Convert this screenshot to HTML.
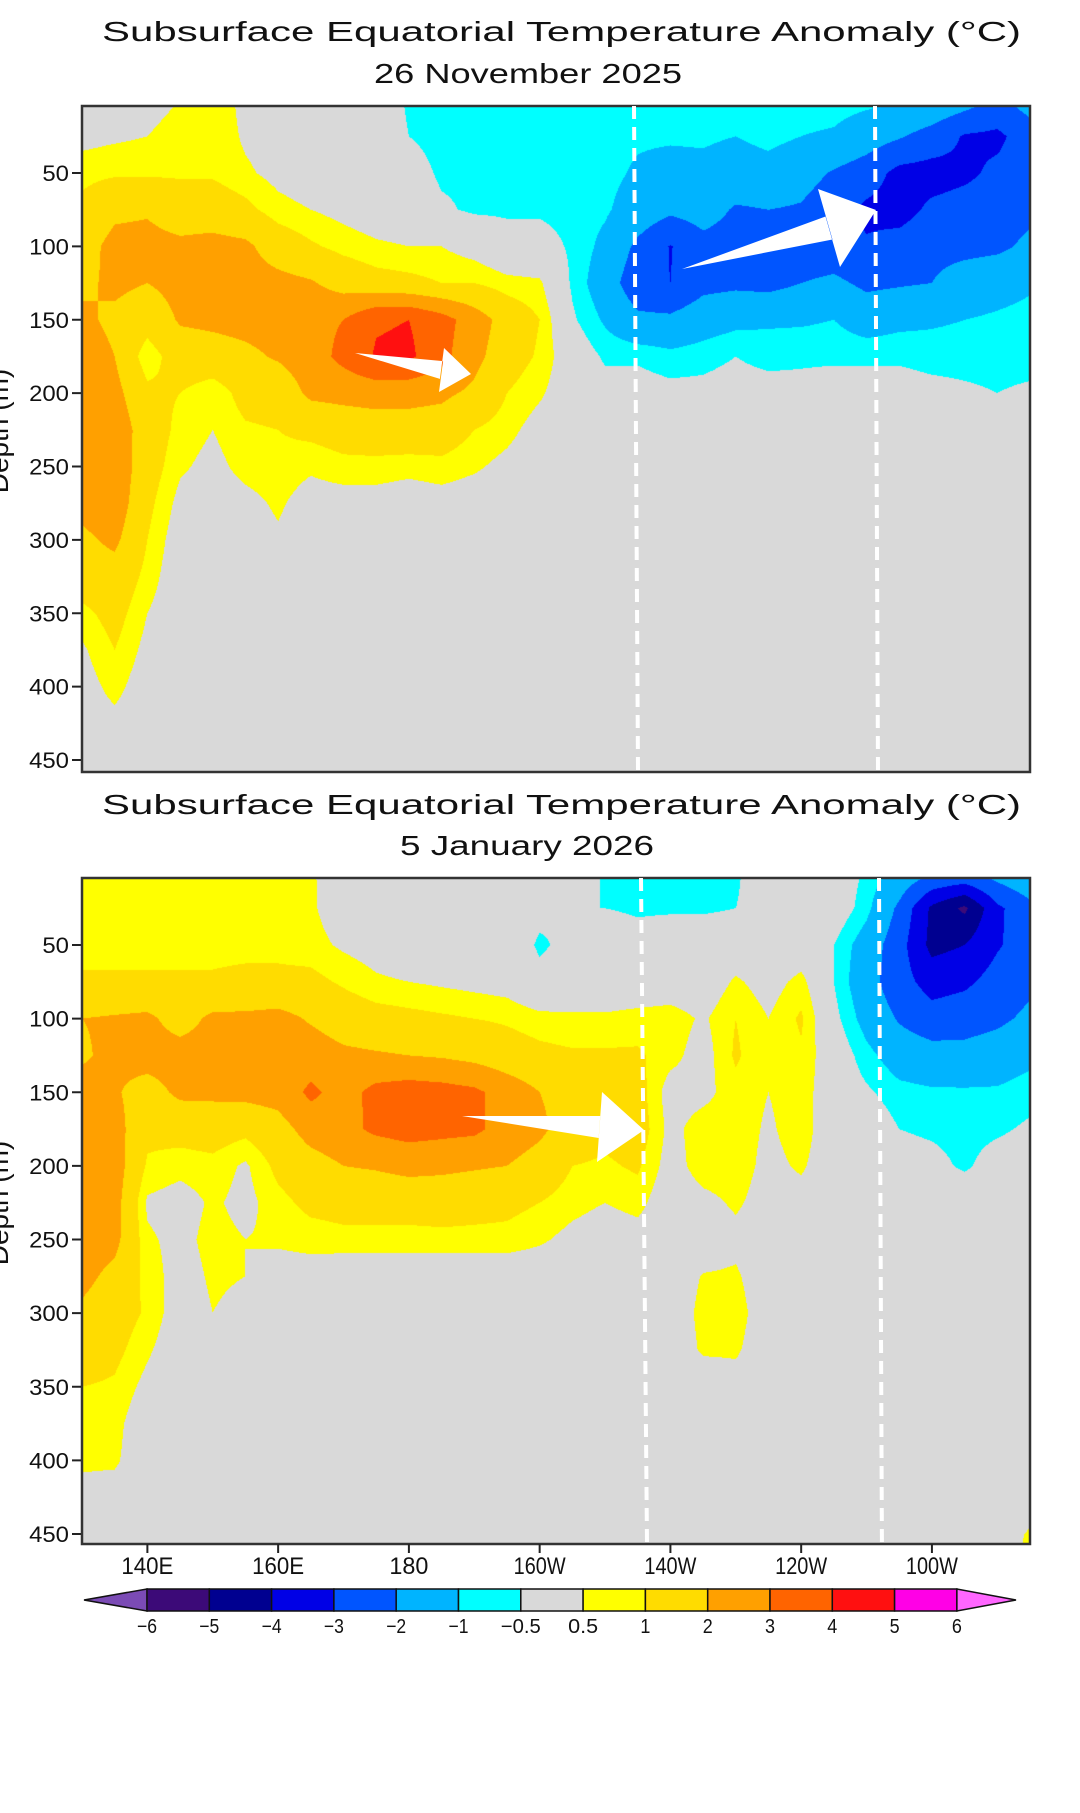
<!DOCTYPE html>
<html><head><meta charset="utf-8"><style>
html,body{margin:0;padding:0;background:#fff;}
#wrap{position:relative;width:1080px;height:1813px;overflow:hidden;background:#fff;}
canvas{position:absolute;}
svg{position:absolute;left:0;top:0;}
</style></head><body>
<div id="wrap">
<canvas id="cTop" width="948" height="666" style="left:82px;top:106px"></canvas>
<canvas id="cBot" width="948" height="666" style="left:82px;top:878px"></canvas>
<svg id="ov" width="1080" height="1813" xmlns="http://www.w3.org/2000/svg"></svg>
</div>
<script>
// ---- data: grid lons 130E..85W (step 5), depths 0..475 (step 25) ----
const gridLons = [130,135,140,145,150,155,160,165,170,175,180,185,190,195,200,205,210,215,220,225,230,235,240,245,250,255,260,265,270,275];
const gridDepths = [0,25,50,75,100,125,150,175,200,225,250,275,300,325,350,375,400,425,450,475];
const novCols = [
[0,0.3,0.8,1.2,1.6,1.8,2.2,2.5,2.5,2.5,2.5,2.3,1.8,1.5,0.8,0.4,0.2,0.1],
[0.1,0.4,0.9,1.8,2.3,2.2,1.8,2.0,2.3,2.6,2.7,2.6,2.2,1.6,1.3,1.0,0.7,0.3,0.1],
[0.2,0.5,0.9,1.9,2.3,2.0,1.4,0.6,1.2,1.5,1.4,1.2,1.0,0.8,0.5,0.3,0.1],
[0.5,0.8,0.9,1.5,2.2,2.3,2.1,1.5,1.0,0.8,0.6,0.3,0.1],
[0.9,0.9,0.9,1.5,2.3,2.3,2.2,1.6,0.6,0.5,0.3,0.1],
[0.3,0.4,0.6,1.2,2.2,2.4,2.3,1.8,1.3,0.9,0.7,0.3,0.1],
[0.1,0.2,0.3,0.7,1.5,2.3,2.4,2.1,1.4,1.0,0.8,0.6,0.4],
[0,0,0.1,0.5,1.1,2.1,2.7,2.5,2.2,1.2,0.6,0.2],
[0,0,0,0.3,0.8,1.6,3.0,3.3,2.3,1.4,0.8,0.2],
[0,0,0,0.1,0.6,1.3,3.9,4.1,2.4,1.5,0.8,0.2],
[-0.6,-0.5,-0.2,0,0.5,1.2,4.0,4.2,2.3,1.6,0.7,0.1],
[-0.7,-0.7,-0.6,-0.4,0.5,1.0,3.4,3.3,2.2,1.5,0.8,0.2],
[-0.7,-0.7,-0.6,-0.6,0.2,1.0,2.5,2.3,1.8,1.0,0.6,0.1],
[-0.7,-0.8,-0.7,-0.6,-0.2,0.7,1.6,1.4,1.0,0.7,0.3],
[-0.8,-0.7,-0.7,-0.6,-0.2,0.6,1.0,0.9,0.6,0.2],
[-0.8,-0.8,-0.8,-0.7,-0.6,-0.6,-0.4,0],
[-0.8,-0.8,-0.8,-0.9,-1.2,-1.5,-1.1,-0.6,-0.2],
[-0.8,-0.9,-1.1,-1.4,-2.2,-2.6,-1.8,-0.6,-0.2],
[-0.8,-0.9,-1.3,-1.8,-3.05,-3.0,-1.8,-0.8,-0.3],
[-0.8,-0.9,-1.2,-1.6,-2.3,-2.3,-1.4,-0.7,-0.3],
[-0.7,-1.0,-1.4,-2.1,-2.4,-2.2,-1.2,-0.5,-0.2],
[-0.5,-0.8,-1.3,-2.0,-2.2,-2.3,-1.1,-0.7,-0.2],
[-0.7,-1.0,-1.6,-2.1,-2.6,-2.0,-1.1,-0.6,-0.3],
[-0.7,-1.1,-2.1,-2.6,-2.6,-1.8,-1.0,-0.6,-0.2],
[-0.8,-1.5,-2.5,-3.2,-2.9,-2.2,-1.4,-0.6,-0.2],
[-0.9,-1.9,-3.3,-3.4,-2.6,-2.1,-1.2,-0.6,-0.2],
[-1.1,-2.4,-3.4,-2.8,-2.3,-2.0,-1.1,-0.7,-0.3],
[-1.5,-3.1,-3.2,-2.6,-2.3,-1.5,-1.0,-0.7,-0.4],
[-2.2,-3.2,-2.8,-2.5,-2.2,-1.3,-0.9,-0.7,-0.5],
[-1.5,-2.5,-2.6,-2.2,-1.8,-1.1,-0.8,-0.7,-0.4,-0.1]
];
const janCols = [
[0.8,0.8,0.8,1.1,2.0,1.9,2.3,2.6,2.7,2.7,2.6,2.3,1.8,1.5,1.0,0.8,0.6,0.3,0.1],
[0.8,0.8,0.8,1.1,2.1,2.2,2.1,2.4,2.5,2.4,2.3,1.7,1.4,1.2,0.9,0.7,0.6,0.2],
[0.8,0.8,0.8,1.1,2.2,2.4,1.6,1.2,0.9,0.4,0.6,0.8,0.9,0.6,0.3],
[0.8,0.8,0.8,1.1,1.6,2.4,2.2,1.3,0.7,0.2,0.3,0.2,0.1],
[0.8,0.8,0.8,1.1,2.2,2.4,2.2,1.4,0.8,0.6,0.7,0.6,0.5,0.3],
[0.8,0.8,0.8,1.2,2.2,2.4,2.3,1.2,0.4,0.3,0.5,0.5,0.3],
[0.8,0.8,0.8,1.2,2.3,2.4,2.4,1.6,1.2,0.8,0.6,0.2],
[0.6,0.6,0.7,1.2,1.9,2.5,3.2,2.4,1.6,1.2,0.7,0.2],
[0,0.1,0.4,0.9,1.5,2.2,2.6,2.7,2.0,1.3,0.8],
[0,0,0.2,0.6,1.3,2.1,3.3,3.2,2.1,1.3,0.8],
[0,0,0,0.5,1.2,2.0,3.5,3.4,2.3,1.3,0.8],
[0,0,0,0.4,1.1,1.9,3.4,3.3,2.2,1.4,0.8],
[0,0,0,0.3,1.0,1.7,3.2,3.2,2.1,1.3,0.8],
[0,0,0,0.2,0.9,1.4,2.6,2.6,2.0,1.2,0.8],
[0,-0.3,-0.6,-0.3,0.7,1.2,2.0,2.2,1.6,1.0,0.6],
[0,-0.5,-0.3,0,0.6,1.1,1.6,1.5,1.0,0.7,0.3],
[-0.6,-0.5,0,0,0.6,1.1,1.4,1.2,0.9,0.5,0.1],
[-0.7,-0.6,-0.2,0,0.7,1.1,1.3,1.4,1.1,0.7,0.2],
[-0.7,-0.6,0,0,0.8,0.7,0.2,0.3,0.2],
[-0.7,-0.6,0,0,0.4,0.2,0.3,0.8,0.8,0.3,0,0.55,0.7,0.6,0],
[-0.6,-0.5,0,0.6,1.0,1.1,0.8,0.8,0.8,0.6,0.3,0.6,0.8,0.6,0.2],
[0,-0.2,-0.3,0.2,0.5,0.5,0.5,0.4,0.3,0.2],
[0,0,0,0.7,1.1,0.9,0.8,0.8,0.6,0.2],
[0,0,-0.5,-0.5,-0.3,0],
[-0.6,-0.8,-1.4,-1.6,-1.3,-0.8,-0.4,0],
[-1.2,-2.2,-2.6,-2.6,-2.1,-1.4,-0.8,-0.5,-0.2],
[-1.8,-4.2,-4.3,-3.4,-2.6,-1.6,-0.9,-0.6,-0.3],
[-1.9,-5.2,-4.0,-3.2,-2.4,-1.7,-0.9,-0.7,-0.6],
[-1.5,-3.2,-3.1,-2.6,-2.2,-1.5,-0.9,-0.6,-0.2],
[-1.0,-2.3,-2.5,-2.2,-1.8,-1.2,-0.7,-0.4,-0.1,0,0,0,0,0,0,0,0,0,0.6,0.8]
];
const levels = [-6,-5,-4,-3,-2,-1,-0.5,0.5,1,2,3,4,5,6];
const levelLabels = ["−6","−5","−4","−3","−2","−1","−0.5","0.5","1","2","3","4","5","6"];
const depthTicks = [50,100,150,200,250,300,350,400,450];
const lonTicks = [140,160,180,200,220,240,260];
const lonTickLabels = ["140E","160E","180","160W","140W","120W","100W"];
const colors = ["#7b4bb5","#3c0a78","#000090","#0000e6","#0055ff","#00b4ff","#00ffff","#d9d9d9","#ffff00","#ffdc00","#ffa000","#ff6400","#ff1010","#ff00e6","#ff66ff"];

// ---- scales ----
const X0=82, X1=1030, LON0=130, LON1=275;
function xScale(lon){return X0+(lon-LON0)/(LON1-LON0)*(X1-X0);}
const panels=[
 {id:'cTop',top:106,bot:772,y50:173,y450:760,data:novCols,name:'november'},
 {id:'cBot',top:878,bot:1544,y50:945,y450:1534,data:janCols,name:'january'}
];
function yScale(p,d){return p.y50+(d-50)*(p.y450-p.y50)/400;}
function depthAt(p,y){return 50+(y-p.y50)*400/(p.y450-p.y50);}
function hex(c){return [parseInt(c.substr(1,2),16),parseInt(c.substr(3,2),16),parseInt(c.substr(5,2),16)];}
const rgb=colors.map(hex);
function colorIdx(v){let i=0;while(i<levels.length&&v>=levels[i])i++;return i;}
function val(cols,ci,ri){const c=cols[ci];return (c&&c[ri]!==undefined)?c[ri]:0;}
function sample(cols,lon,d){
 let fx=(lon-gridLons[0])/5, fy=(d-gridDepths[0])/25;
 fx=Math.max(0,Math.min(gridLons.length-1.0001,fx));
 fy=Math.max(0,Math.min(gridDepths.length-1.0001,fy));
 const i=Math.floor(fx),j=Math.floor(fy),tx=fx-i,ty=fy-j;
 const a=val(cols,i,j),b=val(cols,i+1,j),c=val(cols,i,j+1),e=val(cols,i+1,j+1);
 return (a*(1-tx)+b*tx)*(1-ty)+(c*(1-tx)+e*tx)*ty;
}
panels.forEach(p=>{
 const cv=document.getElementById(p.id),ctx=cv.getContext('2d');
 const W=cv.width,H=cv.height,img=ctx.createImageData(W,H);
 for(let j=0;j<H;j++){const d=depthAt(p,p.top+j+0.5);
  for(let i=0;i<W;i++){const lon=LON0+(i+0.5)/W*(LON1-LON0);
   const k=rgb[colorIdx(sample(p.data,lon,d))],o=(j*W+i)*4;
   img.data[o]=k[0];img.data[o+1]=k[1];img.data[o+2]=k[2];img.data[o+3]=255;}}
 ctx.putImageData(img,0,0);
});

// ---- overlay ----
const NS='http://www.w3.org/2000/svg',svg=document.getElementById('ov');
function el(tag,attrs,parent){const e=document.createElementNS(NS,tag);for(const k in attrs)e.setAttribute(k,attrs[k]);(parent||svg).appendChild(e);return e;}
function txt(s,attrs){const t=el('text',Object.assign({'font-family':'Liberation Sans, DejaVu Sans, sans-serif',fill:'#111'},attrs));t.textContent=s;return t;}

const titles=[
 {t1y:41,t2y:83,date:'26 November 2025',dx0:374,dx1:682},
 {t1y:814,t2y:855,date:'5 January 2026',dx0:400,dx1:654}
];
titles.forEach((T,k)=>{
 const a=txt('Subsurface Equatorial Temperature Anomaly (°C)',{x:102,y:T.t1y,'font-size':28,textLength:919,lengthAdjust:'spacingAndGlyphs'});
 
 
 const b=txt(T.date,{x:T.dx0,y:T.t2y,'font-size':28,textLength:T.dx1-T.dx0,lengthAdjust:'spacingAndGlyphs'});
 
 
});

panels.forEach((p,k)=>{
 const g=el('g',{});
 
 
 depthTicks.forEach(d=>{
  const y=yScale(p,d);
  el('line',{x1:72,x2:82,y1:y,y2:y,stroke:'#222','stroke-width':2},g);
  const t=txt(String(d),{x:69,y:y+8,'font-size':22,'text-anchor':'end',textLength:String(d).length*13.3,lengthAdjust:'spacingAndGlyphs'});
  g.appendChild(t);
  
  
 });
 const yl=txt('Depth (m)',{x:0,y:0,'font-size':28,'text-anchor':'middle',transform:'translate(8,'+((p.top+p.bot)/2-8)+') rotate(-90)'});
 
 
 const fr=el('rect',{x:X0,y:p.top,width:X1-X0,height:p.bot-p.top,fill:'none',stroke:'#333','stroke-width':2.5});
 
 
});

// x axis (bottom panel)
const pb=panels[1];
lonTicks.forEach((lon,i)=>{
 const x=xScale(lon);
 el('line',{x1:x,x2:x,y1:pb.bot,y2:pb.bot+9,stroke:'#222','stroke-width':2});
 const t=txt(lonTickLabels[i],{x:x,y:1574,'font-size':24,'text-anchor':'middle',textLength:lonTickLabels[i].length*13,lengthAdjust:'spacingAndGlyphs'});
 
 
});

// dashed reference lines
[[634,638,106,770],[875,878,106,772],[641,647,878,1544],[879,882,878,1560]].forEach(L=>{
 const l=el('line',{x1:L[0],x2:L[1],y1:L[2],y2:L[3],stroke:'#fff','stroke-width':4,'stroke-dasharray':'13 8'});
 
 
});

// arrows
function arrow(tail,tip,h1,h2,w){
 const dx=tip[0]-tail[0],dy=tip[1]-tail[1],len=Math.hypot(dx,dy),nx=-dy/len,ny=dx/len;
 const m=[(h1[0]+h2[0])/2,(h1[1]+h2[1])/2];
 const pts=[tail,[m[0]+nx*w,m[1]+ny*w],h1,tip,h2,[m[0]-nx*w,m[1]-ny*w]];
 const a=el('polygon',{points:pts.map(q=>q.join(',')).join(' '),fill:'#fff'});
 
 
}
arrow([355,353],[471,374],[444,348],[439,392],9);
arrow([682,269],[876,210],[818,189],[840,267],12);
arrow([462,1116],[644,1130],[602,1092],[597,1162],11);

// colorbar
const cb=el('g',{});


const CB0=147,CBW=62.3,CBY=1589,CBH=22;
el('polygon',{points:`84,${CBY+CBH/2} ${CB0},${CBY} ${CB0},${CBY+CBH}`,fill:colors[0],stroke:'#111','stroke-width':1.5},cb);
for(let i=0;i<13;i++){
 const r=el('rect',{x:CB0+i*CBW,y:CBY,width:CBW,height:CBH,fill:colors[i+1],stroke:'#111','stroke-width':1.5},cb);
 
 
}
const CBE=CB0+13*CBW;
el('polygon',{points:`${CBE},${CBY} ${CBE},${CBY+CBH} 1016,${CBY+CBH/2}`,fill:colors[14],stroke:'#111','stroke-width':1.5},cb);
levelLabels.forEach((s,i)=>{
 const t=txt(s,{x:CB0+i*CBW,y:1633,'font-size':20,'text-anchor':'middle',textLength:s.length*10,lengthAdjust:'spacingAndGlyphs'});
 cb.appendChild(t);
 
 
});
</script>
</body></html>
